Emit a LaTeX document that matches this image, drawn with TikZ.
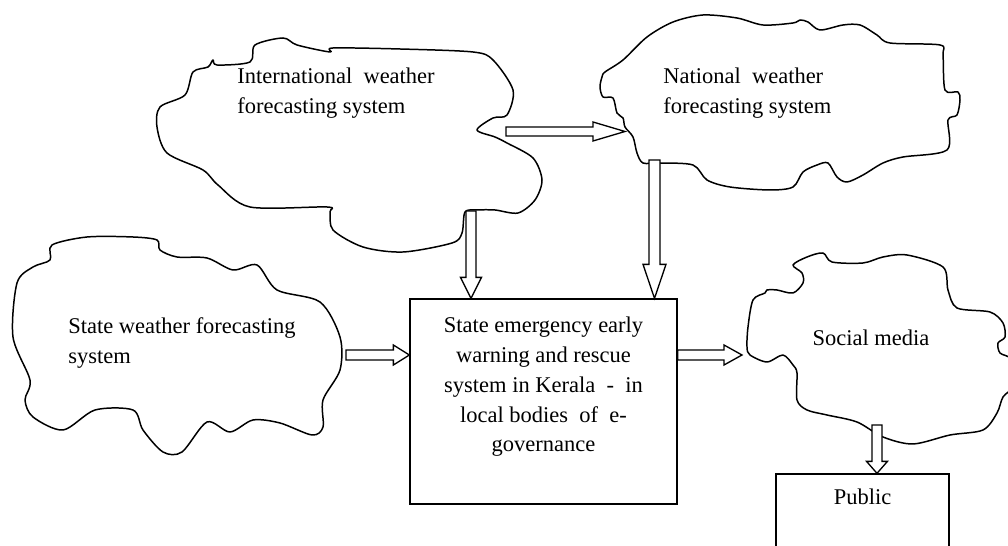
\documentclass[tikz,border=0pt]{standalone}
\usepackage{fontspec}
\setmainfont{Liberation Serif}
\usetikzlibrary{calc}

\begin{document}
\begin{tikzpicture}[x=0.02cm, y=-0.02cm,
    cloud line/.style={line width=0.85pt, line join=round},
    block arrow/.style={line width=0.75pt, fill=white, line join=miter},
    label text/.style={font=\fontsize{12.8}{17}\selectfont, inner sep=0pt},
    box/.style={draw, line width=0.75pt, inner sep=0pt}]
    \useasboundingbox (0,0) rectangle (1008,546);
    \clip (0,0) rectangle (1008,546);

    % --- clouds ---
    % International
    \draw[cloud line] plot[smooth cycle, tension=0.5] coordinates {
        (213,60) (217,65) (250,62) (255,45) (283,38) (297,45) (330,52) (333,48) (400,49)
        (473,52) (493,60) (513,90) (507,115) (493,118) (477,130) (495,137) (507,143)
        (533,158) (542,180) (535,200) (518,213) (495,210) (477,210) (465,212) (462,233)
        (452,243) (403,252) (363,247) (333,230) (330,212) (327,207) (250,207) (218,185)
        (203,170) (167,153) (157,127) (160,107) (185,95) (193,72) (208,67)};
    % National
    \draw[cloud line] plot[smooth cycle, tension=0.5] coordinates {
        (602,77) (605,72) (623,60) (647,37) (673,22) (703,15) (737,18) (763,25) (793,23)
        (800,20) (808,22) (820,30) (843,25) (860,25) (877,35) (890,43) (940,45) (943,55)
        (945,90) (958,92) (960,100) (957,115) (948,120) (947,150) (903,157) (883,163)
        (863,175) (847,182) (837,177) (828,163) (817,165) (803,172) (793,187) (770,190)
        (730,187) (707,180) (693,165) (660,163) (643,163) (637,153) (633,137) (625,127)
        (623,118) (617,113) (613,98) (603,97) (600,87)};
    % State
    \draw[cloud line] plot[smooth cycle, tension=0.5] coordinates {
        (52,245) (87,237) (133,237) (157,240) (160,250) (177,257) (207,258) (233,270)
        (257,265) (277,290) (320,302) (340,337) (340,370) (323,400) (323,427) (312,435)
        (280,423) (253,420) (230,432) (207,422) (182,452) (163,452) (143,430) (133,410)
        (95,410) (63,430) (33,417) (25,400) (30,380) (13,337) (17,283) (33,267) (50,260)};
    % Social media
    \draw[cloud line] plot[smooth cycle, tension=0.5] coordinates {
        (793,265) (807,257) (823,253) (832,262) (863,263) (883,257) (907,255) (943,267)
        (948,290) (957,308) (990,312) (1003,323) (1005,337) (998,343) (1000,353) (1012,360)
        (1014,385) (1003,397) (997,413) (983,430) (950,435) (913,444) (883,437) (857,422)
        (827,415) (807,410) (797,400) (797,373) (793,365) (783,355) (767,362) (750,355)
        (747,347) (748,327) (753,300) (765,293) (767,290) (777,290) (793,293) (803,283)
        (802,273)};

    % --- boxes and texts ---
    \node[box, minimum width=5.34cm, minimum height=4.1cm] (kerala) at (543.5,401.5) {};
    \node[box, minimum width=3.46cm, minimum height=1.8cm] (public) at (862.5,519) {};

    \node[label text, anchor=north west, align=left] (intl) at (237,67.4)
        {International\ \ weather\\forecasting system};
    \node[label text, anchor=north west, align=left] (natl) at (663,67.4)
        {National\ \ weather\\forecasting system};
    \node[label text, anchor=north west, align=left] (state) at (68,317)
        {State weather forecasting\\system};
    \node[label text, anchor=north, align=center] (kerala-text) at (543.5,316.5)
        {State emergency early\\warning and rescue\\system in Kerala\ \ -\ \ in\\local bodies\ \ of\ \ e-\\governance};
    \node[label text, anchor=base] (social) at (871,346) {Social media};
    \node[label text, anchor=base] (public-text) at (862.5,505) {Public};

    % --- hollow arrows ---
    \coordinate (ia-s) at (506,131.5); \coordinate (ia-e) at (625,131.5);
    \coordinate (sa-s) at (346,355);   \coordinate (sa-e) at (kerala.west |- sa-s);
    \coordinate (ka-e) at (742,355);   \coordinate (ka-s) at (kerala.east |- ka-e);
    \coordinate (id-s) at (471,211);   \coordinate (id-e) at (id-s |- kerala.north);
    \coordinate (nd-s) at (654.5,160); \coordinate (nd-e) at (nd-s |- kerala.north);
    \coordinate (sd-s) at (877,425);   \coordinate (sd-e) at (sd-s |- public.north);

    \foreach \a/\b/\l/\h/\s in {ia-s/ia-e/32/9.5/4.5, sa-s/sa-e/16/10/5, ka-s/ka-e/18/10/5,
                                id-s/id-e/21/10.5/5, nd-s/nd-e/34/11.5/5.5, sd-s/sd-e/12/10.5/5}
    {
        \coordinate (hb) at ($(\b)!\l*0.02cm!(\a)$);
        \draw[block arrow] ($(\a)!\s*0.02cm!90:(\b)$) -- ($(hb)!\s*0.02cm!90:(\b)$)
            -- ($(hb)!\h*0.02cm!90:(\b)$) -- (\b) -- ($(hb)!\h*0.02cm!-90:(\b)$)
            -- ($(hb)!\s*0.02cm!-90:(\b)$) -- ($(\a)!\s*0.02cm!-90:(\b)$) -- cycle;
    }
\end{tikzpicture}
\end{document}
